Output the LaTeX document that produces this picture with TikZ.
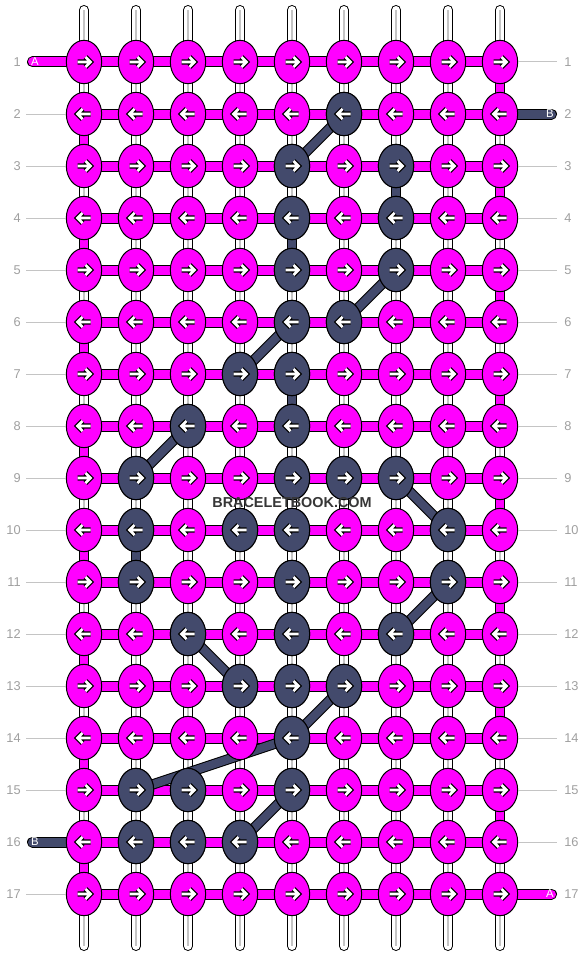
\documentclass[tikz,border=0pt]{standalone}
\usepackage{fontspec}
\setmainfont{Liberation Sans}
\usetikzlibrary{shapes.geometric}

\definecolor{knotpink}{HTML}{FF00FF}
\definecolor{knotslate}{HTML}{434A6C}
\definecolor{numgrey}{HTML}{A0A0A0}
\definecolor{rulegrey}{HTML}{C4C4C4}
\definecolor{markgrey}{HTML}{363636}

\pgfdeclarelayer{warp}
\pgfdeclarelayer{strand}
\pgfsetlayers{warp,strand,main}

\tikzset{
  knot/.style={ellipse,draw=black,line width=0.75pt,fill=knotpink,
    minimum width=26.5pt,minimum height=32.5pt,inner sep=0pt},
  dark/.style={fill=knotslate},
  hbar/.style={draw=black,line width=0.75pt,double=knotpink,double distance=6.75pt},
  vbar/.style={draw=black,line width=0.75pt,double=knotpink,double distance=6pt},
  dbar/.style={draw=black,line width=0.75pt,double=knotslate,double distance=6.25pt},
  warpline/.style={draw=black,line width=0.75pt,double=white,double distance=6pt,line cap=round},
  rowrule/.style={draw=rulegrey,line width=0.75pt},
  rownum/.style={text=numgrey,font=\fontsize{9.6}{11}\selectfont,inner sep=0pt},
  endlbl/.style={text=white,font=\fontsize{8.5}{10}\selectfont,inner sep=0pt},
  rarr/.pic={
    \draw[black,line width=3.8pt,line cap=square] (-6.5,0) -- (5.5,0) (1.5,-5) -- (6.5,0) -- (1.5,5);
    \draw[white,line width=2.1pt,line cap=square] (-6.5,0) -- (5.5,0) (1.5,-5) -- (6.5,0) -- (1.5,5);
  },
  larr/.pic={
    \draw[black,line width=3.8pt,line cap=square] (6.5,0) -- (-5.5,0) (-1.5,-5) -- (-6.5,0) -- (-1.5,5);
    \draw[white,line width=2.1pt,line cap=square] (6.5,0) -- (-5.5,0) (-1.5,-5) -- (-6.5,0) -- (-1.5,5);
  }
}

\begin{document}
\begin{tikzpicture}[x=0.75pt,y=-0.75pt]
  \begin{pgfonlayer}{warp}
    \fill[white] (0,0) rectangle (584,956);
  \end{pgfonlayer}
  \useasboundingbox (0,0) rectangle (584,956);

  % knots
  \foreach \r in {1,...,17}{
    \foreach \c in {1,...,9}{
      \node[knot] (\r-\c) at ({84+52*(\c-1)},{62+52*(\r-1)}) {};
    }
  }
  \foreach \r/\c in {2/6,3/5,3/7,4/5,4/7,5/5,5/7,6/5,6/6,7/4,7/5,8/3,8/5,
      9/2,9/5,9/6,9/7,10/2,10/4,10/5,10/8,11/2,11/5,11/8,12/3,12/5,12/7,
      13/4,13/5,13/6,14/5,15/2,15/3,15/5,16/2,16/3,16/4}{
    \node[knot,dark] (\r-\c) at ({84+52*(\c-1)},{62+52*(\r-1)}) {};
  }
  \foreach \r in {1,...,17}{
    \foreach \c in {1,...,9}{
      \ifodd\r \pic at (\r-\c) {rarr}; \else \pic at (\r-\c) {larr}; \fi
    }
  }

  % warp threads
  \begin{pgfonlayer}{warp}
    \foreach \c in {1,...,9}{
      \coordinate (top\c) at ({84+52*(\c-1)},10);
      \coordinate (bot\c) at ({84+52*(\c-1)},946);
      \draw[warpline] (top\c) -- (bot\c);
      \draw[rulegrey,line width=0.9pt] (top\c) -- (bot\c);
    }
  \end{pgfonlayer}

  \begin{pgfonlayer}{strand}
    % rows
    \foreach \r in {1,...,17}{
      \draw[hbar] (\r-1.center) -- (\r-9.center);
    }
    % turns at the edges
    \foreach \r [evaluate=\r as \s using {int(\r+1)}] in {2,4,...,16}{
      \draw[vbar] (\r-1.center) -- (\s-1.center);
    }
    \foreach \r [evaluate=\r as \s using {int(\r+1)}] in {1,3,...,15}{
      \draw[vbar] (\r-9.center) -- (\s-9.center);
    }
    % dark thread
    \foreach \a/\b in {3-7/4-7,4-5/5-5,7-5/8-5,10-2/11-2}{
      \draw[dbar] (\a.center) -- (\b.center);
    }
    \foreach \a/\b in {2-6/3-5,5-7/6-6,6-5/7-4,8-3/9-2,9-7/10-8,11-8/12-7,
        12-3/13-4,13-6/14-5,14-5/15-2,15-5/16-4}{
      \draw[dbar] (\a.center) -- (\b.center);
    }
    % loose ends
    \coordinate (endA1) at (32.5,62);
    \coordinate (endB2) at (551.5,114);
    \coordinate (endB16) at (32.5,842);
    \coordinate (endA17) at (551.5,894);
    \draw[hbar,line cap=round] (endA1) -- (1-1.center);
    \draw[dbar,double distance=6.75pt,line cap=round] (2-9.center) -- (endB2);
    \draw[dbar,double distance=6.75pt,line cap=round] (endB16) -- (16-1.center);
    \draw[hbar,line cap=round] (17-9.center) -- (endA17);
  \end{pgfonlayer}
  \node[endlbl] (lblA1) at (35,62) {A};
  \node[endlbl] (lblB2) at (550,114) {B};
  \node[endlbl] (lblB16) at (35,842) {B};
  \node[endlbl] (lblA17) at (550,894) {A};

  % row numbers
  \foreach \r in {1,...,17}{
    \node[rownum,anchor=east] (L\r) at (21,{62+52*(\r-1)}) {\r};
    \node[rownum,anchor=west] (R\r) at (564,{62+52*(\r-1)}) {\r};
  }
  \foreach \r in {2,...,15,17}{
    \draw[rowrule] (\r-1.west) -- ++(-39.5,0);
  }
  \foreach \r in {1,3,4,...,16}{
    \draw[rowrule] (\r-9.east) -- ++(39,0);
  }

  \node[text=markgrey,font=\bfseries\fontsize{10.8}{12}\selectfont] (mark) at (292,503) {BRACELETBOOK.COM};
\end{tikzpicture}
\end{document}
